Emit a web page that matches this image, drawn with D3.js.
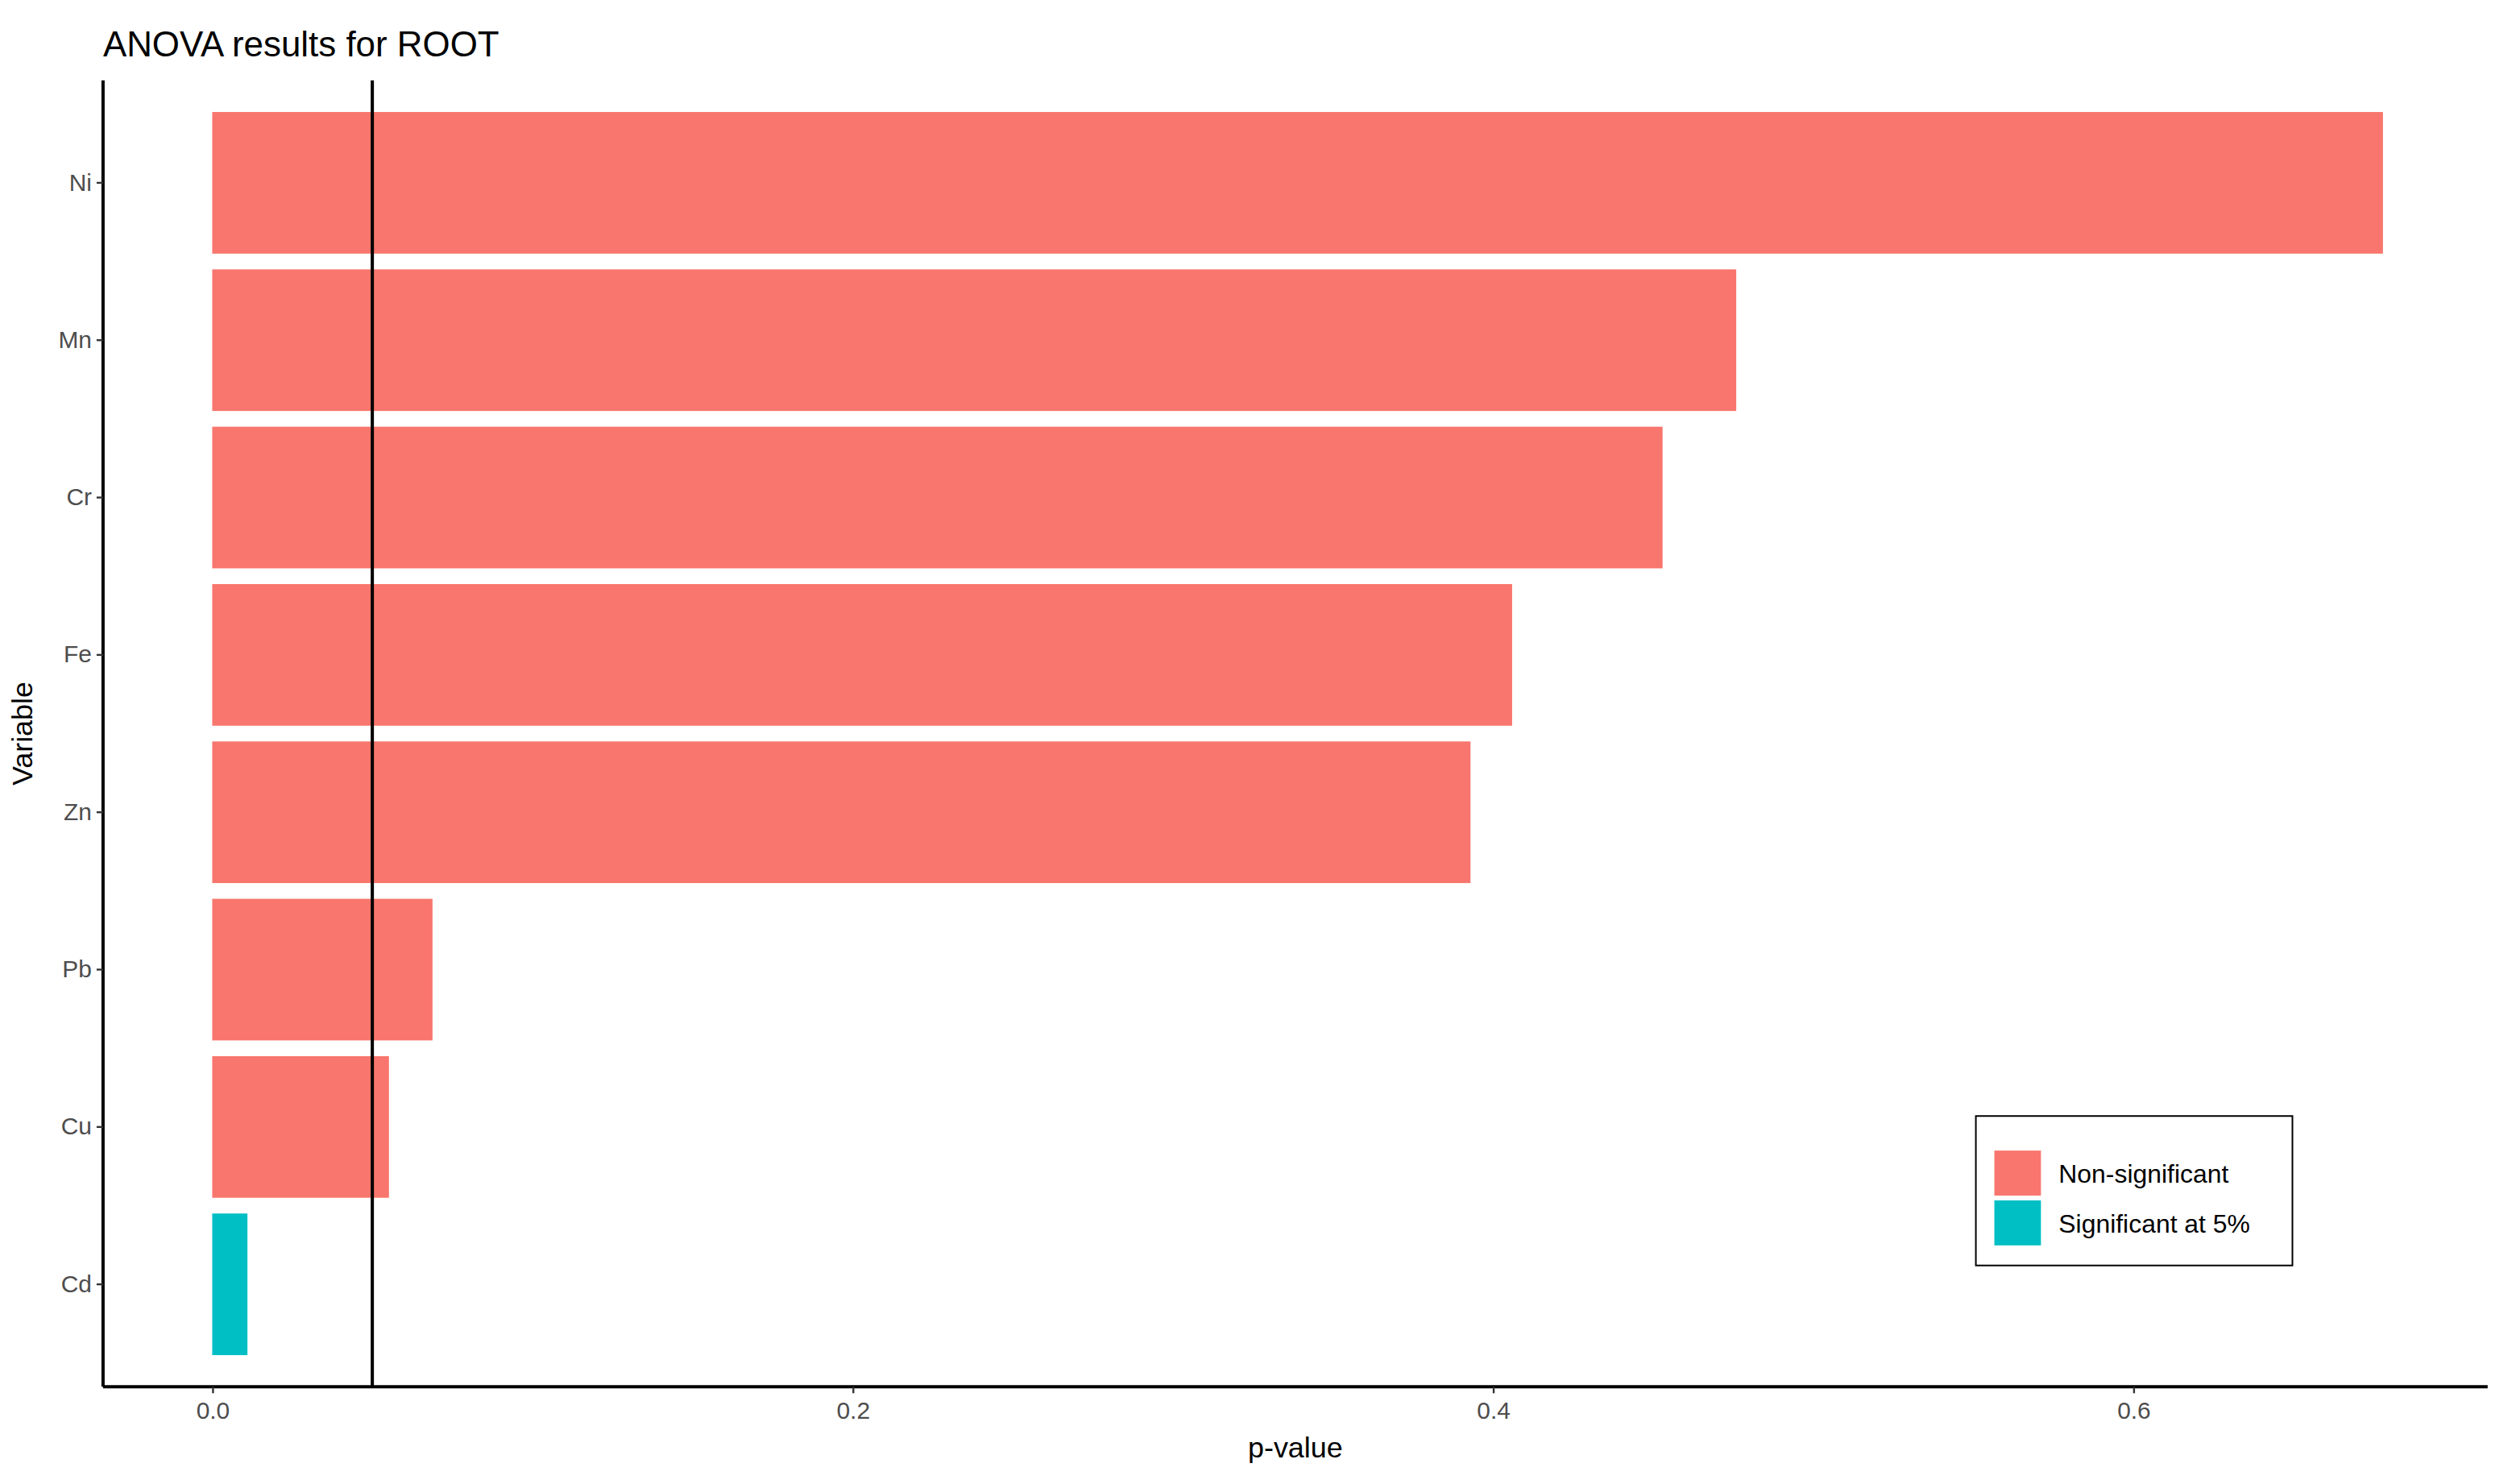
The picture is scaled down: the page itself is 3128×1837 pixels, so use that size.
<!DOCTYPE html>
<html><head><meta charset="utf-8">
<script src="https://cdn.jsdelivr.net/npm/d3@7"></script>
<style>body{margin:0;background:#fff}</style></head>
<body>
<script>
const categories = ["Ni","Mn","Cr","Fe","Zn","Pb","Cu","Cd"];
const pvalues = [0.678,0.476,0.453,0.406,0.393,0.0688,0.0552,0.011];
const xTicks = [0.0,0.2,0.4,0.6];
const xTickLabels = ["0.0","0.2","0.4","0.6"];
const legendLabels = ["Non-significant","Significant at 5%"];
const colors = ["#F8766D","#00BFC4"];
const threshold = 0.05;

const W=1568,H=921;
const svg=d3.select("body").append("svg").attr("width",3128).attr("height",1837)
  .attr("viewBox",`0 0 ${W} ${H}`).style("font-family","'Liberation Sans',Arial,sans-serif");
const L=64,R=1548,T=50,B=863;
const x=d3.scaleLinear().domain([-0.0341,0.7107]).range([L,R]);
const step=(B-T)/8.2;
const y=d3.scaleBand().domain(categories).range([T+0.1*step,B-0.1*step]).padding(0.1);

svg.selectAll("rect.bar").data(categories).enter().append("rect")
  .attr("x",x(0)).attr("y",d=>y(d)).attr("height",y.bandwidth())
  .attr("width",(d,i)=>x(pvalues[i])-x(0))
  .attr("fill",(d,i)=>pvalues[i]<threshold?colors[1]:colors[0]);

svg.append("line").attr("x1",x(threshold)).attr("x2",x(threshold)).attr("y1",T).attr("y2",B)
  .attr("stroke","#000").attr("stroke-width",2);

const xa=svg.append("g").attr("transform",`translate(0,${B})`)
  .call(d3.axisBottom(x).tickValues(xTicks).tickFormat((d,i)=>xTickLabels[i]).tickSize(4).tickPadding(5));
const ya=svg.append("g").attr("transform",`translate(${L},0)`)
  .call(d3.axisLeft(y).tickSize(4).tickPadding(3));
[xa,ya].forEach(a=>{
  a.select(".domain").attr("stroke","#000").attr("stroke-width",2);
  a.selectAll(".tick line").attr("stroke","#333").attr("stroke-width",1.2);
  a.selectAll(".tick text").attr("fill","#4d4d4d").style("font-size","15px").style("font-family","'Liberation Sans',Arial,sans-serif");
});
xa.select(".domain").attr("d",`M${L},0H${R}`);
ya.select(".domain").attr("d",`M0,${T}V${B}`);

svg.append("text").attr("x",64).attr("y",35).text("ANOVA results for ROOT").style("font-size","22px");
svg.append("text").attr("x",(L+R)/2).attr("y",907).attr("text-anchor","middle").text("p-value").style("font-size","18px");
svg.append("text").attr("transform",`translate(20,${(T+B)/2}) rotate(-90)`).attr("text-anchor","middle").text("Variable").style("font-size","18px");

const lg=svg.append("g");
lg.append("rect").attr("x",1229.5).attr("y",694.5).attr("width",197).attr("height",93).attr("fill","#fff").attr("stroke","#000").attr("stroke-width",1);
legendLabels.forEach((t,i)=>{
  lg.append("rect").attr("x",1241).attr("y",716+i*31).attr("width",29).attr("height",28).attr("fill",colors[i]);
  lg.append("text").attr("x",1281).attr("y",736+i*31).text(t).style("font-size","16px");
});
</script>
</body></html>
